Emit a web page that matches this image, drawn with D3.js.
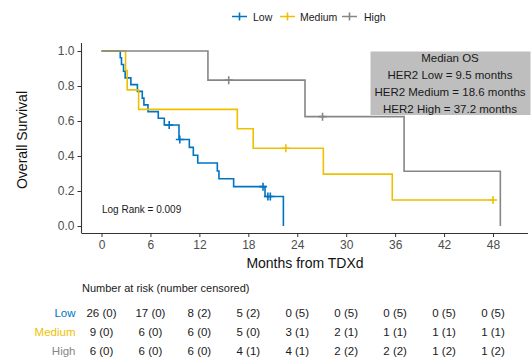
<!DOCTYPE html>
<html>
<head>
<meta charset="utf-8">
<script src="https://cdnjs.cloudflare.com/ajax/libs/d3/7.8.5/d3.min.js"></script>
<style>
  body { margin: 0; background: #fff; }
  text { font-family: "Liberation Sans", Arial, sans-serif; }
</style>
</head>
<body>
<script>
// Groups and colours
var groups = ["Low", "Medium", "High"];
var colors = ["#0073C2", "#EFC000", "#868686"];

// Follow-up times (months) and status (1 = death, 0 = censored)
var lowTimes  = [2.3, 2.45, 2.7, 2.9, 3.6, 4.4, 5.0, 5.2, 5.7, 6.96, 7.7, 8.3, 9.5, 9.5, 9.6, 10.77, 11.26, 11.8, 14.2, 14.4, 16.2, 19.8, 20.05, 20.4, 20.7, 22.3];
var lowEvents = [1,   1,    1,   1,   1,   1,   1,   1,   1,   1,    1,   0,   1,   1,   0,   1,     1,     1,    1,    1,    1,    0,    1,     0,    0,    1];

var medTimes  = [2.95, 3.15, 4.55, 16.65, 18.6, 22.6, 27.2, 35.65, 48.0];
var medEvents = [1,    1,    1,    1,     1,    0,    1,    1,     0];

var highTimes  = [13.05, 15.6, 24.95, 27.1, 37.1, 48.9];
var highEvents = [1,     0,    1,     0,    1,    1];

// Number at risk table
var riskMonths = [0, 6, 12, 18, 24, 30, 36, 42, 48];
var lowAtRisk  = [26, 17, 8, 5, 0, 0, 0, 0, 0];
var lowCens    = [0, 0, 2, 2, 5, 5, 5, 5, 5];
var medAtRisk  = [9, 6, 6, 5, 3, 2, 1, 1, 1];
var medCens    = [0, 0, 0, 0, 1, 1, 1, 1, 1];
var highAtRisk = [6, 6, 6, 4, 4, 2, 2, 1, 1];
var highCens   = [0, 0, 0, 1, 1, 2, 2, 2, 2];

var medianLines = ["Median OS", "HER2 Low = 9.5 months", "HER2 Medium = 18.6 months", "HER2 High = 37.2 months"];
var yTicks = [0, 0.2, 0.4, 0.6, 0.8, 1.0];

// Kaplan-Meier estimate
function kaplanMeier(times, events) {
  var n = times.length;
  var idx = d3.range(n).sort(function(a, b) { return times[a] - times[b]; });
  var s = 1, atRisk = n;
  var steps = [{t: 0, s: 1}], cens = [];
  var i = 0;
  while (i < n) {
    var t = times[idx[i]], d = 0, c = 0;
    while (i < n && times[idx[i]] === t) {
      if (events[idx[i]]) d++; else c++;
      i++;
    }
    if (d > 0) {
      s = s * (atRisk - d) / atRisk;
      steps.push({t: t, s: s});
    }
    if (c > 0) cens.push({t: t, s: s});
    atRisk -= d + c;
  }
  var tmax = d3.max(times);
  if (steps[steps.length - 1].t < tmax) steps.push({t: tmax, s: s});
  return {steps: steps, cens: cens};
}

var fits = [kaplanMeier(lowTimes, lowEvents), kaplanMeier(medTimes, medEvents), kaplanMeier(highTimes, highEvents)];

var svg = d3.select("body").append("svg")
  .attr("width", 532)
  .attr("height", 359);

var x = d3.scaleLinear().domain([0, 48]).range([101.5, 493]);
var y = d3.scaleLinear().domain([0, 1]).range([226, 51]);

var axisColor = "#333333";
var tickText = "#4d4d4d";

// Axes
var xAxis = svg.append("g")
  .attr("transform", "translate(0,233)")
  .call(d3.axisBottom(x).tickValues(riskMonths).tickSize(4).tickSizeOuter(0).tickPadding(3));
xAxis.select(".domain").attr("d", "M81.5,0.5H528").attr("stroke", axisColor).attr("stroke-width", 1.1);
xAxis.selectAll(".tick line").attr("stroke", axisColor);
xAxis.selectAll(".tick text").attr("fill", tickText).attr("font-size", 12).attr("font-family", "Liberation Sans, Arial, sans-serif");

var yAxis = svg.append("g")
  .attr("transform", "translate(81.5,0)")
  .call(d3.axisLeft(y).tickValues(yTicks).tickFormat(d3.format(".1f")).tickSize(4).tickSizeOuter(0).tickPadding(3));
yAxis.select(".domain").attr("d", "M0,43V233").attr("stroke", axisColor).attr("stroke-width", 1.1);
yAxis.selectAll(".tick line").attr("stroke", axisColor);
yAxis.selectAll(".tick text").attr("fill", tickText).attr("font-size", 12).attr("font-family", "Liberation Sans, Arial, sans-serif");

// Axis titles
svg.append("text")
  .attr("x", 305).attr("y", 268)
  .attr("text-anchor", "middle")
  .attr("font-size", 14).attr("fill", "#111")
  .text("Months from TDXd");

svg.append("text")
  .attr("transform", "translate(27,140) rotate(-90)")
  .attr("text-anchor", "middle")
  .attr("font-size", 14).attr("fill", "#111")
  .text("Overall Survival");

// Curves
var line = d3.line()
  .x(function(d) { return x(d.t); })
  .y(function(d) { return y(d.s); })
  .curve(d3.curveStepAfter);

fits.forEach(function(f, gi) {
  var g = svg.append("g");
  g.append("path")
    .attr("d", line(f.steps))
    .attr("fill", "none")
    .attr("stroke", colors[gi])
    .attr("stroke-width", 1.6);
  g.selectAll(".cens")
    .data(f.cens).enter()
    .append("path")
    .attr("d", function(d) {
      var cx = x(d.t), cy = y(d.s);
      return "M" + (cx - 4) + "," + cy + "H" + (cx + 4) + "M" + cx + "," + (cy - 4) + "V" + (cy + 4);
    })
    .attr("stroke", colors[gi])
    .attr("stroke-width", 1.6);
});

// Median box
svg.append("rect")
  .attr("x", 370.5).attr("y", 51.5)
  .attr("width", 160).attr("height", 63.5)
  .attr("fill", "#BEBEBE");
svg.selectAll(".med")
  .data(medianLines).enter()
  .append("text")
  .attr("x", 450)
  .attr("y", function(d, i) { return 61.5 + i * 17.2; })
  .attr("text-anchor", "middle")
  .attr("font-size", 11.5).attr("fill", "#1a1a1a")
  .text(function(d) { return d; });

// Log rank
svg.append("text")
  .attr("x", 102).attr("y", 213)
  .attr("font-size", 10).attr("fill", "#1a1a1a")
  .text("Log Rank = 0.009");

// Legend
var legendKeyX = [232, 280, 342];
var legendTextX = [253, 300, 364];
groups.forEach(function(name, gi) {
  var lx = legendKeyX[gi], ly = 16.5;
  svg.append("path")
    .attr("d", "M" + lx + "," + ly + "H" + (lx + 15) + "M" + (lx + 7.5) + "," + (ly - 4) + "V" + (ly + 4))
    .attr("stroke", colors[gi]).attr("stroke-width", 1.6);
  svg.append("text")
    .attr("x", legendTextX[gi]).attr("y", ly + 4)
    .attr("font-size", 10.5).attr("fill", "#1a1a1a")
    .text(name);
});

// Risk table
svg.append("text")
  .attr("x", 82).attr("y", 292)
  .attr("font-size", 11).attr("fill", "#1a1a1a")
  .text("Number at risk (number censored)");

var riskRows = [
  {atRisk: lowAtRisk, cens: lowCens},
  {atRisk: medAtRisk, cens: medCens},
  {atRisk: highAtRisk, cens: highCens}
];
var rowY = [317, 336, 355];
riskRows.forEach(function(row, gi) {
  svg.append("text")
    .attr("x", 75.5).attr("y", rowY[gi])
    .attr("text-anchor", "end")
    .attr("font-size", 11.5).attr("fill", colors[gi])
    .text(groups[gi]);
  svg.selectAll(".risk" + gi)
    .data(riskMonths).enter()
    .append("text")
    .attr("x", function(d) { return x(d); })
    .attr("y", rowY[gi])
    .attr("text-anchor", "middle")
    .attr("font-size", 11.5).attr("fill", "#1a1a1a")
    .text(function(d, i) { return row.atRisk[i] + " (" + row.cens[i] + ")"; });
});
</script>
</body>
</html>
